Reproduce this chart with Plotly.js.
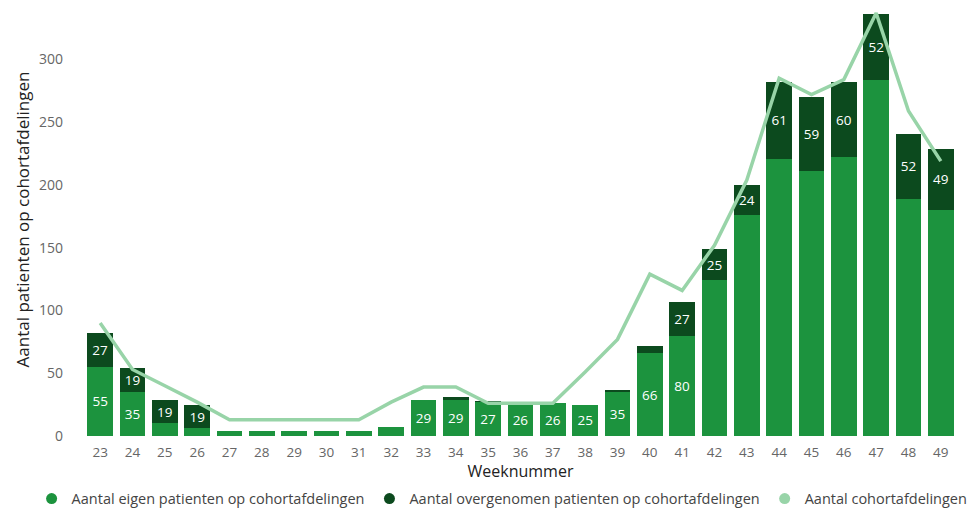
<!DOCTYPE html>
<html>
<head>
<meta charset="utf-8">
<script src="https://cdn.plot.ly/plotly-3.0.1.min.js"></script>
<style>html,body{margin:0;padding:0;background:#fff;}#chart{width:977px;height:516px;}</style>
</head>
<body>
<div id="chart"></div>
<script>
const weeks = ['23','24','25','26','27','28','29','30','31','32','33','34','35','36','37','38','39','40','41','42','43','44','45','46','47','48','49'];
const eigen = [55,35,10,6,4,4,4,4,4,7,29,29,27,26,26,25,35,66,80,124,176,221,211,222,284,189,180];
const overgenomen = [27,19,19,19,0,0,0,0,0,0,0,2,1,0,0,0,2,6,27,25,24,61,59,60,52,52,49];
const cohortafdelingen = [90,53,40,27,13,13,13,13,13,27,39,39,26,26,26,51,77,129,116,152,204,285,272,284,337,259,219];
const eigenLabels = ['55','35','','','','','','','','','29','29','27','26','26','25','35','66','80','','','','','','','',''];
const overLabels = ['27','19','19','19','','','','','','','','','','','','','','','27','25','24','61','59','60','52','52','49'];

const cLight = 'rgb(28,147,62)';
const cDark = 'rgb(12,74,30)';
const cLine = 'rgb(152,212,168)';
const font = 'Open Sans, Noto Sans, sans-serif';

const traces = [
  {type:'bar', x:weeks, y:eigen, text:eigenLabels, textposition:'inside', insidetextanchor:'middle', textangle:0, constraintext:'none',
   textfont:{color:'#fff', size:13.5, family:font}, marker:{color:cLight}, showlegend:false, hoverinfo:'skip'},
  {type:'bar', x:weeks, y:overgenomen, text:overLabels, textposition:'inside', insidetextanchor:'middle', textangle:0, constraintext:'none',
   textfont:{color:'#fff', size:13.5, family:font}, marker:{color:cDark}, showlegend:false, hoverinfo:'skip'},
  {type:'scatter', mode:'lines', x:weeks, y:cohortafdelingen, line:{color:cLine, width:3.5}, showlegend:false, hoverinfo:'skip'},
  {type:'scatter', mode:'markers', x:[null], y:[null], name:'Aantal eigen patienten op cohortafdelingen', marker:{color:cLight, size:11, symbol:'circle'}},
  {type:'scatter', mode:'markers', x:[null], y:[null], name:'Aantal overgenomen patienten op cohortafdelingen', marker:{color:cDark, size:11, symbol:'circle'}},
  {type:'scatter', mode:'markers', x:[null], y:[null], name:'Aantal cohortafdelingen', marker:{color:cLine, size:11, symbol:'circle'}}
];

const layout = {
  width:977, height:516,
  margin:{l:84, r:20, t:3, b:79},
  paper_bgcolor:'#fff', plot_bgcolor:'#fff',
  barmode:'stack', bargap:0.2,
  hovermode:false,
  font:{family:font, color:'#666'},
  xaxis:{type:'category', showgrid:false, zeroline:false, showline:false, ticks:'',
    tickfont:{size:13.5, color:'#666'}, ticklabelstandoff:6,
    title:{text:'Weeknummer', font:{size:16, color:'#222'}, standoff:3}},
  yaxis:{range:[0,345], tickvals:[0,50,100,150,200,250,300], showgrid:false, zeroline:false, showline:false, ticks:'',
    tickfont:{size:14, color:'#666'}, ticklabelstandoff:20,
    title:{text:'Aantal patienten op cohortafdelingen', font:{size:17, color:'#222'}, standoff:5}},
  legend:{orientation:'h', x:-0.06, xanchor:'left', y:-0.142, yanchor:'middle', traceorder:'normal',
    font:{size:14.5, color:'#444'}, itemwidth:30, tracegroupgap:0},
  showlegend:true
};

Plotly.newPlot('chart', traces, layout, {displayModeBar:false, staticPlot:true});
</script>
</body>
</html>
